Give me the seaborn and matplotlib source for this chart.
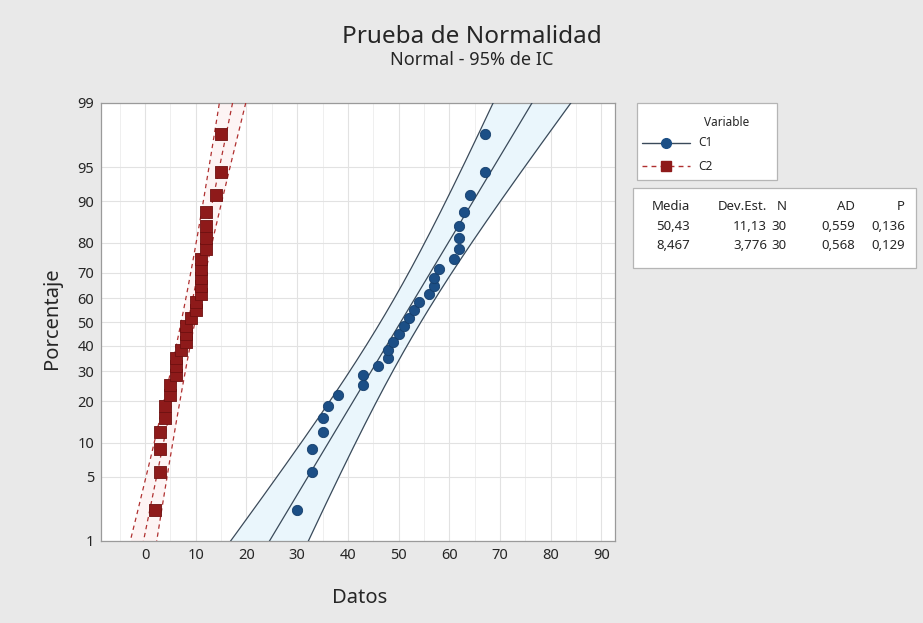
import numpy as np
import pandas as pd
import matplotlib
matplotlib.use("Agg")
import matplotlib.pyplot as plt
from matplotlib.lines import Line2D
from matplotlib.patches import Rectangle
from matplotlib.ticker import NullLocator, FixedLocator
import seaborn as sns
from statistics import NormalDist

# --- data -------------------------------------------------------------
c1_values = [30, 33, 33, 35, 35, 36, 38, 43, 43, 46,
             48, 48, 49, 50, 51, 52, 53, 54, 56, 57,
             57, 58, 61, 62, 62, 62, 63, 64, 67, 67]
c2_values = [2, 3, 3, 3, 4, 4, 5, 5, 6, 6,
             6, 7, 8, 8, 8, 9, 10, 10, 11, 11,
             11, 11, 11, 12, 12, 12, 12, 14, 15, 15]
variables = ["C1", "C2"]
means = [50.43, 8.467]
std_devs = [11.13, 3.776]
n_obs = [30, 30]
ad_stats = [0.559, 0.568]
p_values = [0.136, 0.129]
table_header = ["Media", "Dev.Est.", "N", "AD", "P"]
y_ticks = [1, 5, 10, 20, 30, 40, 50, 60, 70, 80, 90, 95, 99]
x_ticks = [0, 10, 20, 30, 40, 50, 60, 70, 80, 90]

# --- styling ----------------------------------------------------------
sns.set_theme(style="white")
plt.rcParams["font.family"] = ["Noto Sans", "DejaVu Sans"]

BG = "#e9e9e9"
TXT = "#262626"
marker_colors = {"C1": "#1c4f86", "C2": "#8e1a1a"}
line_colors = {"C1": "#3a4a5a", "C2": "#b03030"}
band_colors = {"C1": "#eaf6fc", "C2": "#fdf4f4"}
line_dashes = {"C1": "", "C2": (3.5, 3)}
marker_shapes = {"C1": "o", "C2": "s"}

_nd = NormalDist()
_ppf_v = np.vectorize(_nd.inv_cdf, otypes=[float])
_cdf_v = np.vectorize(_nd.cdf, otypes=[float])


def pct_to_z(p):
    p = np.asarray(p, dtype=float)
    return _ppf_v(np.clip(p / 100.0, 1e-7, 1 - 1e-7))


def z_to_pct(z):
    return _cdf_v(np.asarray(z, dtype=float)) * 100.0


# plotting positions (median ranks) for the observed data
rows = []
for name, vals in zip(variables, [c1_values, c2_values]):
    v = np.sort(np.asarray(vals, dtype=float))
    n = len(v)
    pct = (np.arange(1, n + 1) - 0.3) / (n + 0.4) * 100
    rows.append(pd.DataFrame({"Datos": v, "Porcentaje": pct, "Variable": name}))
points = pd.concat(rows, ignore_index=True)

# fitted normal percentile lines with 95% confidence bounds
grid = np.linspace(0.2, 99.8, 400)
zg = pct_to_z(grid)
curves = []
for name, mu, sd, n in zip(variables, means, std_devs, n_obs):
    half = 1.96 * sd * np.sqrt(1.0 / n + zg ** 2 / (2.0 * n))
    fit = mu + zg * sd
    for label, xs in (("fit", fit), ("lower", fit - half), ("upper", fit + half)):
        curves.append(pd.DataFrame({"Datos": xs, "Porcentaje": grid,
                                    "Variable": name, "Curva": label}))
curves = pd.concat(curves, ignore_index=True)

# --- figure -----------------------------------------------------------
W, H = 923, 623
fig = plt.figure(figsize=(W / 100, H / 100), dpi=100, facecolor=BG)
ax = fig.add_axes([101 / W, 1 - 541 / H, (615 - 101) / W, (541 - 103) / H])
ax.set_facecolor("white")
ax.set_yscale("function", functions=(pct_to_z, z_to_pct))
ax.set_ylim(1, 99)
ax.set_xlim(-8.7, 92.7)

for name in variables:
    sub = curves[(curves["Variable"] == name)]
    lo = sub[sub["Curva"] == "lower"]["Datos"].to_numpy()
    hi = sub[sub["Curva"] == "upper"]["Datos"].to_numpy()
    ax.fill_betweenx(grid, lo, hi, color=band_colors[name], lw=0, zorder=1)

sns.lineplot(data=curves, x="Datos", y="Porcentaje", hue="Variable",
             style="Variable", units="Curva", estimator=None, sort=False,
             palette=line_colors, dashes=line_dashes, linewidth=0.9,
             legend=False, ax=ax, zorder=3)

sns.scatterplot(data=points[points["Variable"] == "C1"], x="Datos", y="Porcentaje",
                color=marker_colors["C1"], marker="o", s=55, edgecolor="#163f6c",
                linewidth=0.6, legend=False, ax=ax, zorder=5)
sns.scatterplot(data=points[points["Variable"] == "C2"], x="Datos", y="Porcentaje",
                color=marker_colors["C2"], marker="s", s=85, edgecolor="#6e1010",
                linewidth=0.6, legend=False, ax=ax, zorder=5)

ax.yaxis.set_major_locator(FixedLocator(y_ticks))
ax.yaxis.set_minor_locator(NullLocator())
ax.set_yticklabels([str(t) for t in y_ticks])
ax.set_xticks(x_ticks)
ax.set_xticks(np.arange(-5, 95, 5), minor=True)

ax.grid(True, which="major", axis="both", color="#e2e2e2", lw=0.8)
ax.grid(True, which="minor", axis="x", color="#efefef", lw=0.7)
ax.set_axisbelow(True)

ax.tick_params(axis="both", which="major", direction="out", length=3, width=0.8,
               color="#888888", labelsize=10.5, labelcolor=TXT, pad=2)
ax.tick_params(axis="x", which="minor", length=0)
for sp in ax.spines.values():
    sp.set_color("#9a9a9a")
    sp.set_linewidth(0.9)

ax.set_xlabel("")
ax.set_ylabel("")
fig.text(360 / W, 1 - 598 / H, "Datos", ha="center", va="center",
         fontsize=14.5, color=TXT)
fig.text(52 / W, 1 - 318 / H, "Porcentaje", ha="center", va="center",
         rotation=90, fontsize=14.5, color=TXT)

fig.text(472 / W, 1 - 37 / H, "Prueba de Normalidad", ha="center", va="center",
         fontsize=17.5, color=TXT)
fig.text(472 / W, 1 - 60 / H, "Normal - 95% de IC", ha="center", va="center",
         fontsize=13, color=TXT)

# --- legend panel -----------------------------------------------------
def fx(px):
    return px / W


def fy(py):
    return 1 - py / H


fig.patches.append(Rectangle((fx(637), fy(180)), fx(777) - fx(637), fy(103) - fy(180),
                             transform=fig.transFigure, facecolor="white",
                             edgecolor="#b5b5b5", lw=0.9, zorder=0))
fig.text(fx(704), fy(122), "Variable", ha="left", va="center", fontsize=8.5, color=TXT)
for name, py in zip(variables, [143, 166]):
    fig.lines.append(Line2D([fx(642), fx(690)], [fy(py), fy(py)], transform=fig.transFigure,
                            color=line_colors[name], lw=1.0,
                            dashes=line_dashes[name] if line_dashes[name] else (None, None)))
    fig.lines.append(Line2D([fx(666)], [fy(py)], transform=fig.transFigure,
                            marker=marker_shapes[name], markersize=7 if name == "C1" else 7.5,
                            color=marker_colors[name], lw=0))
    fig.text(fx(698), fy(py), name, ha="left", va="center", fontsize=8.5, color=TXT)

# --- summary table ----------------------------------------------------
fig.patches.append(Rectangle((fx(633), fy(268)), fx(916) - fx(633), fy(188) - fy(268),
                             transform=fig.transFigure, facecolor="white",
                             edgecolor="#b5b5b5", lw=0.9, zorder=0))


def dec(v, fmt):
    return format(v, fmt).replace(".", ",")


col_right = [690, 767, 787, 855, 905]
for hdr, xr in zip(table_header, col_right):
    fig.text(fx(xr), fy(206), hdr, ha="right", va="center", fontsize=9.5, color=TXT)
for i, (mu, sd, n, ad, pv) in enumerate(zip(means, std_devs, n_obs, ad_stats, p_values)):
    cells = [dec(mu, ".4g"), dec(sd, ".4g"), str(n), dec(ad, ".3f"), dec(pv, ".3f")]
    for txt, xr in zip(cells, col_right):
        fig.text(fx(xr), fy(226 + 20 * i), txt, ha="right", va="center",
                 fontsize=9.5, color=TXT)

fig.savefig("out.png", dpi=100, facecolor=BG)
